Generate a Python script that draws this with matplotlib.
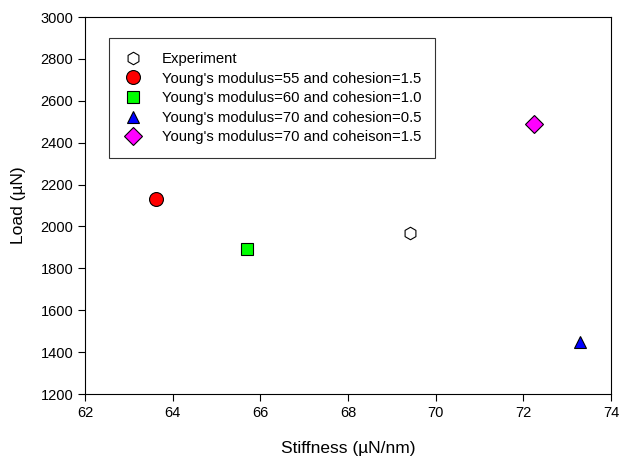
import matplotlib
matplotlib.use('Agg')
from matplotlib import pyplot as plt

plt.rcParams['font.family'] = ['Liberation Sans', 'DejaVu Sans']

labels = ['Experiment',
          "Young's modulus=55 and cohesion=1.5",
          "Young's modulus=60 and cohesion=1.0",
          "Young's modulus=70 and cohesion=0.5",
          "Young's modulus=70 and coheison=1.5"]
stiffness = [69.42, 63.62, 65.69, 73.30, 72.25]
load = [1970, 2130, 1890, 1450, 2488]
markers = ['h', 'o', 's', '^', 'D']
colors = ['white', '#ff0000', '#00ff00', '#0000ff', '#ff00ff']
sizes = [9, 10, 8.5, 8, 9]

fig = plt.figure(figsize=(6.19, 4.59), dpi=100)
ax = fig.add_axes([85/619, 1-394/459, 526/619, 377/459])

for i in range(len(labels)):
    ax.plot(stiffness[i], load[i], linestyle='none', marker=markers[i],
            markersize=sizes[i], markerfacecolor=colors[i],
            markeredgecolor='black', markeredgewidth=0.8, label=labels[i])

ax.set_xlim(62, 74)
ax.set_ylim(1200, 3000)
ax.set_xticks([62, 64, 66, 68, 70, 72, 74])
ax.set_yticks(range(1200, 3001, 200))
ax.tick_params(direction='out', length=5, width=0.8, labelsize=10.5, top=False, right=False)
for s in ax.spines.values():
    s.set_linewidth(0.8)
ax.set_xlabel('Stiffness (\u00b5N/nm)', fontsize=12.5, labelpad=15)
ax.set_ylabel('Load (\u00b5N)', fontsize=12.5, labelpad=10)

leg = ax.legend(loc='upper left', bbox_to_anchor=(0.045, 0.943), fontsize=10.7,
                frameon=True, fancybox=False, edgecolor='black',
                borderpad=0.9, labelspacing=0.38, handletextpad=1.2,
                handlelength=1.5, borderaxespad=0)
leg.get_frame().set_linewidth(0.8)

plt.savefig('out.png', dpi=100)
plt.close()
